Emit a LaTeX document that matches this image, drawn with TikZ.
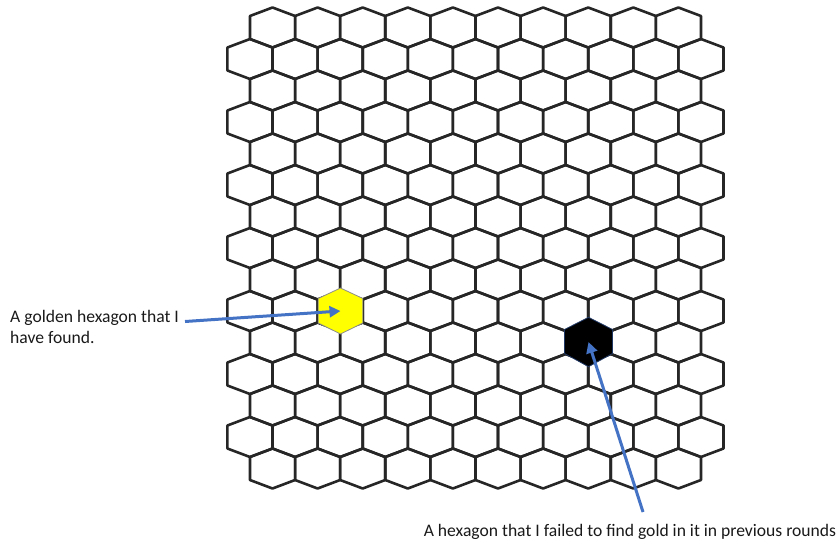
\documentclass[tikz,border=0pt]{standalone}
\usepackage{fontspec}
\setmainfont{Carlito}
\usepackage{tikz}
\usetikzlibrary{arrows.meta, calc}
\definecolor{goldhex}{RGB}{255, 255, 0}
\definecolor{arrowblue}{RGB}{68, 114, 196}
\definecolor{usedrim}{RGB}{31, 56, 100}

\begin{document}
\begin{tikzpicture}[x=1pt, y=-1pt,
    hexline/.style={draw=black!85, line width=2.6pt, line join=round},
    pointer/.style={-{Triangle[length=11pt, width=11pt]}, arrowblue, line width=3pt},
    note/.style={font=\fontsize{17.6}{21}\selectfont, text=black!90, inner sep=0pt}]
    \path[use as bounding box] (0,0) rectangle (840,544);

    % Honeycomb: 15 rows, alternating 10 and 11 cells
    \foreach \r in {0,...,14} {
        \pgfmathtruncatemacro{\shift}{mod(\r,2)}
        \pgfmathtruncatemacro{\last}{9+\shift}
        \pgfmathsetmacro{\cy}{27.5+31.5*\r}
        \foreach \k in {0,...,\last} {
            \pgfmathsetmacro{\cx}{272.5-22.55*\shift+45.1*\k}
            \draw[hexline] (\cx,\cy) ++(0,-20) -- ++(22.55,8.5) -- ++(0,23)
                -- ++(-22.55,8.5) -- ++(-22.55,-8.5) -- ++(0,-23) -- cycle;
        }
    }

    % Found and failed cells
    \coordinate (gold) at (340.5,311);
    \coordinate (fail) at (588.5,342);
    \draw[fill=goldhex, draw=black!45, line width=0.8pt] (gold) ++(0,-23) -- ++(22.3,10.5)
        -- ++(0,24.5) -- ++(-22.3,11) -- ++(-22.3,-11) -- ++(0,-24.5) -- cycle;
    \draw[fill=black, draw=usedrim, line width=0.8pt] (fail) ++(0,-24.7) -- ++(24,12.2)
        -- ++(0,24) -- ++(-24,13.2) -- ++(-24,-13.2) -- ++(0,-24) -- cycle;

    % Labels
    \node[note, anchor=base west, align=left] (goldtxt) at (10,343.5) {A golden hexagon that I\\have found.};
    \node[note, anchor=base] (failtxt) at (630,536) {A hexagon that I failed to find gold in it in previous rounds};

    \coordinate (goldtail) at (185,321.5);
    \coordinate (failtail) at (643,512);
    \draw[pointer] (goldtail) -- (gold);
    \draw[pointer] (failtail) -- (fail);
\end{tikzpicture}
\end{document}
